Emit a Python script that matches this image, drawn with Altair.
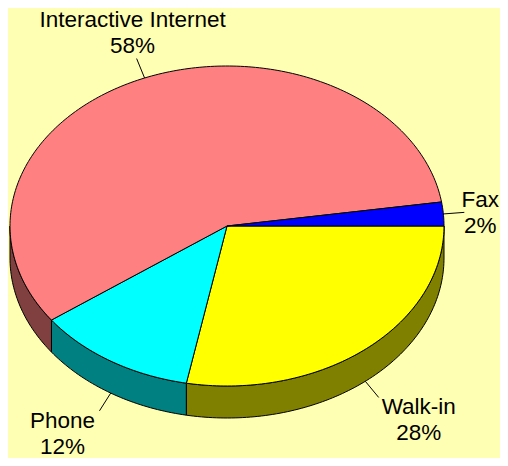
import math
import altair as alt
import pandas as pd

# ---- data ----
names = ["Walk-in", "Phone", "Interactive Internet", "Fax"]
shares = [28.0, 12.0, 57.6, 2.4]          # percent, clockwise from 3 o'clock
top_colors = ["#FFFF00", "#00FFFF", "#FF8080", "#0000FF"]
side_colors = ["#808000", "#008080", "#804040", "#000080"]

# ---- style / geometry of the tilted pie ----
RX, RY, DEPTH = 217.0, 160.0, 32.0
LEADER = 21.0
LINE_H = 26
label_offsets = {  # screen px offsets of the label block centre from leader end
    "Interactive Internet": (-4, -26),
    "Fax": (16, 1),
    "Walk-in": (40, 23),
    "Phone": (-37, 23),
}

def pt(phi_deg, drop=0.0):
    a = math.radians(phi_deg)
    return RX * math.cos(a), -(RY * math.sin(a)) - drop

total = sum(shares)
top_rows, side_rows, lead_rows, text_rows = [], [], [], []
start = 0.0
for name, v in zip(names, shares):
    span = 360.0 * v / total
    a, b = start, start + span
    n = max(2, int(span) + 1)
    # top wedge
    i = 0
    top_rows.append(dict(name=name, i=i, x=0.0, y=0.0)); i += 1
    for k in range(n + 1):
        x, y = pt(a + span * k / n)
        top_rows.append(dict(name=name, i=i, x=x, y=y)); i += 1
    top_rows.append(dict(name=name, i=i, x=0.0, y=0.0))
    # visible side wall (front half)
    sa, sb = max(a, 0.0), min(b, 180.0)
    if sb > sa:
        m = max(2, int(sb - sa) + 1)
        j = 0
        for k in range(m + 1):
            x, y = pt(sa + (sb - sa) * k / m)
            side_rows.append(dict(name=name, i=j, x=x, y=y)); j += 1
        for k in range(m, -1, -1):
            x, y = pt(sa + (sb - sa) * k / m, DEPTH)
            side_rows.append(dict(name=name, i=j, x=x, y=y)); j += 1
        x, y = pt(sa)
        side_rows.append(dict(name=name, i=j, x=x, y=y))
    # leader + label
    mid = (a + b) / 2
    front = math.sin(math.radians(mid)) > 0
    x0, y0 = pt(mid, DEPTH if front else 0.0)
    ux, uy = math.cos(math.radians(mid)), -math.sin(math.radians(mid))
    x1, y1 = x0 + LEADER * ux, y0 + LEADER * uy
    lead_rows.append(dict(name=name, x=x0, y=y0, x2=x1, y2=y1))
    dx, dy = label_offsets[name]
    # first line is anchored; shift up half a line to centre the two-line block
    text_rows.append(dict(name=name, x=x1 + dx, y=y1 - dy + LINE_H / 2,
                          label=f"{name}\n{round(v)}%"))
    start = b

top_df = pd.DataFrame(top_rows)
side_df = pd.DataFrame(side_rows)
lead_df = pd.DataFrame(lead_rows)
text_df = pd.DataFrame(text_rows)

W, H = 492, 450
X0, YTOP = -219, 218
xs = alt.Scale(domain=[X0, X0 + W], nice=False, zero=False)
ys = alt.Scale(domain=[YTOP - H, YTOP], nice=False, zero=False)

sides = alt.Chart(side_df).mark_line(stroke="black", strokeWidth=1, strokeJoin="round").encode(
    x=alt.X("x:Q", scale=xs, axis=None),
    y=alt.Y("y:Q", scale=ys, axis=None),
    fill=alt.Fill("name:N", scale=alt.Scale(domain=names, range=side_colors), legend=None),
    detail="name:N",
    order="i:Q",
)

tops = alt.Chart(top_df).mark_line(stroke="black", strokeWidth=1, strokeJoin="round").encode(
    x=alt.X("x:Q", scale=xs, axis=None),
    y=alt.Y("y:Q", scale=ys, axis=None),
    fill=alt.Fill("name:N", scale=alt.Scale(domain=names, range=top_colors), legend=None),
    detail="name:N",
    order="i:Q",
)

leads = alt.Chart(lead_df).mark_rule(color="black", strokeWidth=1).encode(
    x=alt.X("x:Q", scale=xs, axis=None),
    y=alt.Y("y:Q", scale=ys, axis=None),
    x2="x2:Q",
    y2="y2:Q",
)

texts = alt.Chart(text_df).mark_text(
    font="Liberation Sans", fontSize=22.5, lineBreak="\n", lineHeight=LINE_H,
    align="center", baseline="middle", color="black",
).encode(
    x=alt.X("x:Q", scale=xs, axis=None),
    y=alt.Y("y:Q", scale=ys, axis=None),
    text="label:N",
)

chart = alt.layer(sides, tops, leads, texts).resolve_scale(fill="independent").properties(
    width=W, height=H, padding=0, autosize=alt.AutoSizeParams(type="none"),
).configure(background="#FFFFB3").configure_view(stroke=None)

chart.save("out.html", embed_options={"renderer": "svg", "actions": False})
